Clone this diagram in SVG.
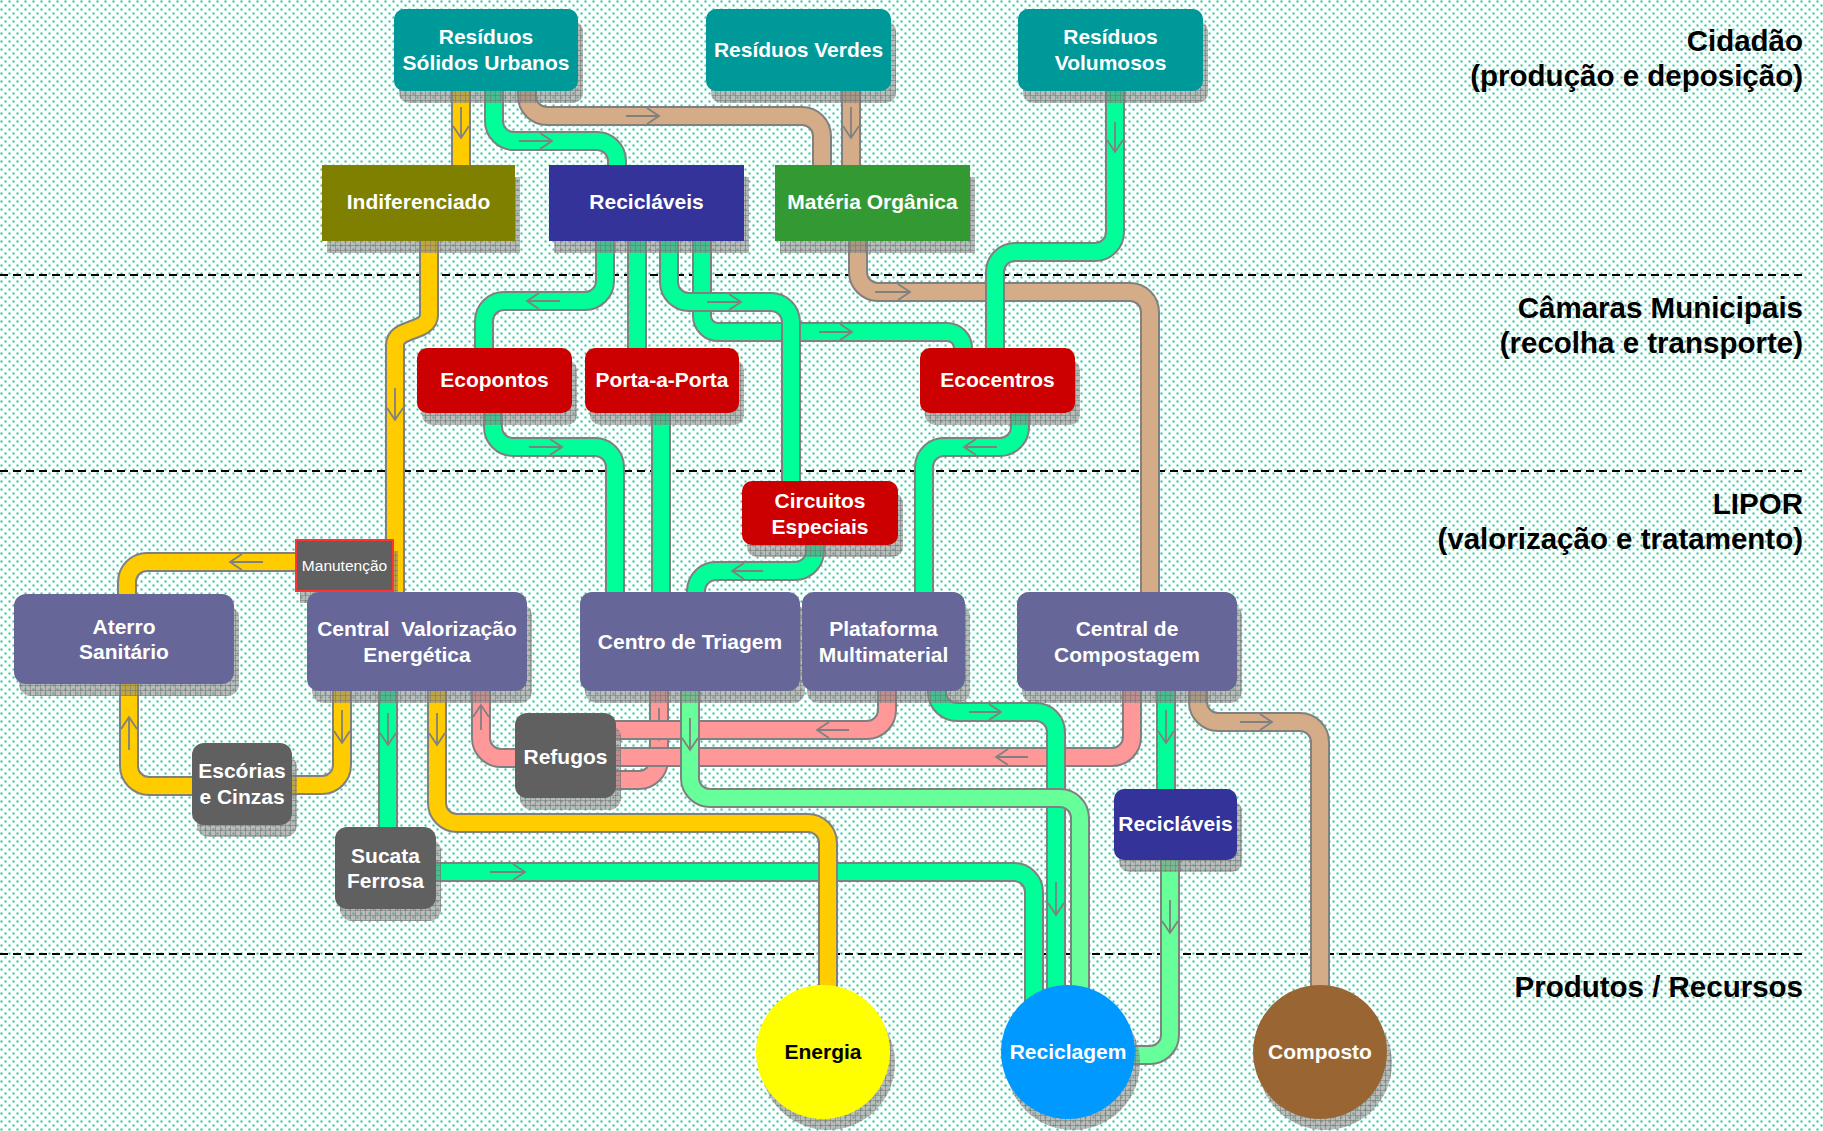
<svg xmlns="http://www.w3.org/2000/svg" width="1823" height="1131" viewBox="0 0 1823 1131">
<defs>
<pattern id="dots" width="8" height="8" patternUnits="userSpaceOnUse">
<rect x="0.5" y="0.5" width="2" height="2" fill="#1FC796"/>
<rect x="4.5" y="4.5" width="2" height="2" fill="#1FC796"/>
</pattern>
<pattern id="sh" width="5" height="5" patternUnits="userSpaceOnUse">
<rect width="5" height="5" fill="#858585" fill-opacity="0.55"/>
<path d="M0 0.5H5M0.5 0V5" stroke="#707070" stroke-width="0.8" stroke-opacity="0.6"/>
</pattern>
<style>
.o{fill:none;stroke:#808080;stroke-width:20}
.f{fill:none;stroke-width:16}
.y{stroke:#FFCC00}.g{stroke:#00FF99}.lg{stroke:#66FF99}.p{stroke:#FF9999}.tn{stroke:#D4AC88}
.a{fill:none;stroke:#808080;stroke-width:1.8}
.s{fill:url(#sh)}
.t{font-family:"Liberation Sans",Arial,sans-serif;font-weight:bold;font-size:21px;fill:#fff;text-anchor:middle}
.lab{font-family:"Liberation Sans",Arial,sans-serif;font-weight:bold;font-size:29.5px;fill:#000;text-anchor:end}
.teal{fill:#009999}.red{fill:#CC0000}.pur{fill:#666699}.dk{fill:#606060}.blue{fill:#333399}
</style>
</defs>
<rect width="1823" height="1131" fill="#fff"/>
<rect width="1823" height="1131" fill="url(#dots)"/>
<g id="layers" stroke="#000" stroke-width="2" stroke-dasharray="8 5">
<line x1="0" y1="275" x2="1805" y2="275"/>
<line x1="0" y1="471" x2="1805" y2="471"/>
<line x1="0" y1="954" x2="1805" y2="954"/>
</g>
<g id="layer-labels">
<text class="lab" x="1803" y="51">Cidadão</text>
<text class="lab" x="1803" y="86">(produção e deposição)</text>
<text class="lab" x="1803" y="318">Câmaras Municipais</text>
<text class="lab" x="1803" y="353">(recolha e transporte)</text>
<text class="lab" x="1803" y="514">LIPOR</text>
<text class="lab" x="1803" y="549">(valorização e tratamento)</text>
<text class="lab" x="1803" y="997">Produtos / Recursos</text>
</g>
<g id="connectors">
<path class="o" d="M527 80V96A20 20 0 0 0 547 116H802A20 20 0 0 1 822 136V180"/>
<path class="f tn" d="M527 80V96A20 20 0 0 0 547 116H802A20 20 0 0 1 822 136V180"/>
<path class="a" d="M626 116H659M647 108L659 116L647 124"/>
<path class="o" d="M494 80V121A20 20 0 0 0 514 141H597A20 20 0 0 1 617 161V180"/>
<path class="f g" d="M494 80V121A20 20 0 0 0 514 141H597A20 20 0 0 1 617 161V180"/>
<path class="a" d="M519 141H552M540 133L552 141L540 149"/>
<path class="o" d="M461 80V180"/>
<path class="f y" d="M461 80V180"/>
<path class="a" d="M461 107V138M453 126L461 138L469 126"/>
<path class="o" d="M851 80V180"/>
<path class="f tn" d="M851 80V180"/>
<path class="a" d="M851 107V138M843 126L851 138L859 126"/>
<path class="o" d="M858 230V272A20 20 0 0 0 878 292H1130A20 20 0 0 1 1150 312V600"/>
<path class="f tn" d="M858 230V272A20 20 0 0 0 878 292H1130A20 20 0 0 1 1150 312V600"/>
<path class="a" d="M875 292H910M898 284L910 292L898 300"/>
<path class="o" d="M1115 80V232A20 20 0 0 1 1095 252H1015A20 20 0 0 0 995 272V360"/>
<path class="f g" d="M1115 80V232A20 20 0 0 1 1095 252H1015A20 20 0 0 0 995 272V360"/>
<path class="a" d="M1115 122V152M1107 140L1115 152L1123 140"/>
<path class="o" d="M605 230V281A20 20 0 0 1 585 301H504A20 20 0 0 0 484 321V360"/>
<path class="f g" d="M605 230V281A20 20 0 0 1 585 301H504A20 20 0 0 0 484 321V360"/>
<path class="a" d="M560 301H527M539 293L527 301L539 309"/>
<path class="o" d="M637 230V360"/>
<path class="f g" d="M637 230V360"/>
<path class="o" d="M702 230V316A16 16 0 0 0 718 332H947A16 16 0 0 1 963 348V360"/>
<path class="f g" d="M702 230V316A16 16 0 0 0 718 332H947A16 16 0 0 1 963 348V360"/>
<path class="a" d="M819 332H852M840 324L852 332L840 340"/>
<path class="o" d="M669 230V282A20 20 0 0 0 689 302H771A20 20 0 0 1 791 322V490"/>
<path class="f g" d="M669 230V282A20 20 0 0 0 689 302H771A20 20 0 0 1 791 322V490"/>
<path class="a" d="M707 302H741M729 294L741 302L729 310"/>
<path class="o" d="M429 230V315C429 333 395 327 395 345V600"/>
<path class="f y" d="M429 230V315C429 333 395 327 395 345V600"/>
<path class="a" d="M395 388V420M387 408L395 420L403 408"/>
<path class="o" d="M493 400V427A20 20 0 0 0 513 447H595A20 20 0 0 1 615 467V600"/>
<path class="f g" d="M493 400V427A20 20 0 0 0 513 447H595A20 20 0 0 1 615 467V600"/>
<path class="a" d="M529 447H562M550 439L562 447L550 455"/>
<path class="o" d="M661 400V600"/>
<path class="f g" d="M661 400V600"/>
<path class="o" d="M1020 400V427A20 20 0 0 1 1000 447H944A20 20 0 0 0 924 467V600"/>
<path class="f g" d="M1020 400V427A20 20 0 0 1 1000 447H944A20 20 0 0 0 924 467V600"/>
<path class="a" d="M997 447H964M976 439L964 447L976 455"/>
<path class="o" d="M815 535V551A20 20 0 0 1 795 571H716A20 20 0 0 0 696 591V600"/>
<path class="f g" d="M815 535V551A20 20 0 0 1 795 571H716A20 20 0 0 0 696 591V600"/>
<path class="a" d="M763 571H732M744 563L732 571L744 579"/>
<path class="o" d="M300 562H147A20 20 0 0 0 127 582V600"/>
<path class="f y" d="M300 562H147A20 20 0 0 0 127 582V600"/>
<path class="a" d="M263 562H230M242 554L230 562L242 570"/>
<path class="o" d="M200 786H149A20 20 0 0 1 129 766V675"/>
<path class="f y" d="M200 786H149A20 20 0 0 1 129 766V675"/>
<path class="a" d="M129 750V717M121 729L129 717L137 729"/>
<path class="o" d="M342 680V765A20 20 0 0 1 322 785H280"/>
<path class="f y" d="M342 680V765A20 20 0 0 1 322 785H280"/>
<path class="a" d="M342 710V743M334 731L342 743L350 731"/>
<path class="o" d="M388 680V840"/>
<path class="f g" d="M388 680V840"/>
<path class="a" d="M388 713V745M380 733L388 745L396 733"/>
<path class="o" d="M659 680V760A20 20 0 0 1 639 780H605"/>
<path class="f p" d="M659 680V760A20 20 0 0 1 639 780H605"/>
<path class="a" d="M659 708V740M651 728L659 740L667 728"/>
<path class="o" d="M887 680V710A20 20 0 0 1 867 730H605"/>
<path class="f p" d="M887 680V710A20 20 0 0 1 867 730H605"/>
<path class="a" d="M849 730H817M829 722L817 730L829 738"/>
<path class="o" d="M1132 680V737A20 20 0 0 1 1112 757H605"/>
<path class="f p" d="M1132 680V737A20 20 0 0 1 1112 757H605"/>
<path class="a" d="M1028 757H996M1008 749L996 757L1008 765"/>
<path class="o" d="M525 758H501A20 20 0 0 1 481 738V680"/>
<path class="f p" d="M525 758H501A20 20 0 0 1 481 738V680"/>
<path class="a" d="M481 730V705M473 717L481 705L489 717"/>
<path class="o" d="M937 680V692A20 20 0 0 0 957 712H1036A20 20 0 0 1 1056 732V1010"/>
<path class="f g" d="M937 680V692A20 20 0 0 0 957 712H1036A20 20 0 0 1 1056 732V1010"/>
<path class="a" d="M969 712H1001M989 704L1001 712L989 720"/>
<path class="a" d="M1056 882V915M1048 903L1056 915L1064 903"/>
<path class="o" d="M690 680V778A20 20 0 0 0 710 798H1060A20 20 0 0 1 1080 818V1010"/>
<path class="f lg" d="M690 680V778A20 20 0 0 0 710 798H1060A20 20 0 0 1 1080 818V1010"/>
<path class="a" d="M690 718V750M682 738L690 750L698 738"/>
<path class="o" d="M430 872H1014A20 20 0 0 1 1034 892V1010"/>
<path class="f g" d="M430 872H1014A20 20 0 0 1 1034 892V1010"/>
<path class="a" d="M490 872H525M513 864L525 872L513 880"/>
<path class="o" d="M437 680V803A20 20 0 0 0 457 823H808A20 20 0 0 1 828 843V1000"/>
<path class="f y" d="M437 680V803A20 20 0 0 0 457 823H808A20 20 0 0 1 828 843V1000"/>
<path class="a" d="M437 713V745M429 733L437 745L445 733"/>
<path class="o" d="M1166 680V800"/>
<path class="f g" d="M1166 680V800"/>
<path class="a" d="M1166 710V743M1158 731L1166 743L1174 731"/>
<path class="o" d="M1170 850V1035A20 20 0 0 1 1150 1055H1110"/>
<path class="f lg" d="M1170 850V1035A20 20 0 0 1 1150 1055H1110"/>
<path class="a" d="M1170 900V933M1162 921L1170 933L1178 921"/>
<path class="o" d="M1198 680V702A20 20 0 0 0 1218 722H1300A20 20 0 0 1 1320 742V1000"/>
<path class="f tn" d="M1198 680V702A20 20 0 0 0 1218 722H1300A20 20 0 0 1 1320 742V1000"/>
<path class="a" d="M1240 722H1272M1260 714L1272 722L1260 730"/>
</g>
<g id="rsu"><rect class="s" x="399" y="21" width="184" height="82" rx="10"/><rect class="teal" x="394" y="9" width="184" height="82" rx="10"/><text class="t" x="486" y="44">Resíduos</text><text class="t" x="486" y="70">Sólidos Urbanos</text></g>
<g id="residuos-verdes"><rect class="s" x="711" y="21" width="185" height="82" rx="10"/><rect class="teal" x="706" y="9" width="185" height="82" rx="10"/><text class="t" x="798.5" y="57">Resíduos Verdes</text></g>
<g id="residuos-volumosos"><rect class="s" x="1023" y="21" width="185" height="82" rx="10"/><rect class="teal" x="1018" y="9" width="185" height="82" rx="10"/><text class="t" x="1110.5" y="44">Resíduos</text><text class="t" x="1110.5" y="70">Volumosos</text></g>
<g id="indiferenciado"><rect class="s" x="327" y="177" width="193" height="76"/><rect fill="#808000" x="322" y="165" width="193" height="76"/><text class="t" x="418.5" y="209">Indiferenciado</text></g>
<g id="reciclaveis"><rect class="s" x="554" y="177" width="195" height="76"/><rect class="blue" x="549" y="165" width="195" height="76"/><text class="t" x="646.5" y="209">Recicláveis</text></g>
<g id="materia-organica"><rect class="s" x="780" y="177" width="195" height="76"/><rect fill="#339933" x="775" y="165" width="195" height="76"/><text class="t" x="872.5" y="209">Matéria Orgânica</text></g>
<g id="ecopontos"><rect class="s" x="422" y="360" width="155" height="65" rx="10"/><rect class="red" x="417" y="348" width="155" height="65" rx="10"/><text class="t" x="494.5" y="387">Ecopontos</text></g>
<g id="porta-a-porta"><rect class="s" x="590" y="360" width="154" height="65" rx="10"/><rect class="red" x="585" y="348" width="154" height="65" rx="10"/><text class="t" x="662" y="387">Porta-a-Porta</text></g>
<g id="ecocentros"><rect class="s" x="925" y="360" width="155" height="65" rx="10"/><rect class="red" x="920" y="348" width="155" height="65" rx="10"/><text class="t" x="997.5" y="387">Ecocentros</text></g>
<g id="circuitos-especiais"><rect class="s" x="747" y="493" width="156" height="64" rx="10"/><rect class="red" x="742" y="481" width="156" height="64" rx="10"/><text class="t" x="820" y="508">Circuitos</text><text class="t" x="820" y="534">Especiais</text></g>
<g id="manutencao"><rect class="s" x="300" y="551" width="98" height="52"/><rect class="dk" x="296" y="540" width="97" height="51" stroke="#FF3333" stroke-width="2"/><text x="344.5" y="571" text-anchor="middle" font-family="Liberation Sans, Arial, sans-serif" font-size="15.5" fill="#fff">Manutenção</text></g>
<g id="aterro-sanitario"><rect class="s" x="19" y="606" width="220" height="90" rx="12"/><rect class="pur" x="14" y="594" width="220" height="90" rx="12"/><text class="t" x="124" y="634">Aterro</text><text class="t" x="124" y="659">Sanitário</text></g>
<g id="central-valorizacao-energetica"><rect class="s" x="312" y="604" width="220" height="99" rx="12"/><rect class="pur" x="307" y="592" width="220" height="99" rx="12"/><text class="t" x="417" y="636" xml:space="preserve">Central  Valorização</text><text class="t" x="417" y="662">Energética</text></g>
<g id="centro-de-triagem"><rect class="s" x="585" y="604" width="220" height="99" rx="12"/><rect class="pur" x="580" y="592" width="220" height="99" rx="12"/><text class="t" x="690" y="649">Centro de Triagem</text></g>
<g id="plataforma-multimaterial"><rect class="s" x="807" y="604" width="163" height="99" rx="12"/><rect class="pur" x="802" y="592" width="163" height="99" rx="12"/><text class="t" x="883.5" y="636">Plataforma</text><text class="t" x="883.5" y="662">Multimaterial</text></g>
<g id="central-de-compostagem"><rect class="s" x="1022" y="604" width="220" height="99" rx="12"/><rect class="pur" x="1017" y="592" width="220" height="99" rx="12"/><text class="t" x="1127" y="636">Central de</text><text class="t" x="1127" y="662">Compostagem</text></g>
<g id="escorias-cinzas"><rect class="s" x="197" y="755" width="100" height="82" rx="12"/><rect class="dk" x="192" y="743" width="100" height="82" rx="12"/><text class="t" x="242" y="778">Escórias</text><text class="t" x="242" y="804">e Cinzas</text></g>
<g id="refugos"><rect class="s" x="520" y="725" width="101" height="85" rx="12"/><rect class="dk" x="515" y="713" width="101" height="85" rx="12"/><text class="t" x="565.5" y="764">Refugos</text></g>
<g id="sucata-ferrosa"><rect class="s" x="340" y="839" width="101" height="82" rx="12"/><rect class="dk" x="335" y="827" width="101" height="82" rx="12"/><text class="t" x="385.5" y="863">Sucata</text><text class="t" x="385.5" y="888">Ferrosa</text></g>
<g id="reciclaveis-2"><rect class="s" x="1119" y="801" width="123" height="71" rx="10"/><rect class="blue" x="1114" y="789" width="123" height="71" rx="10"/><text class="t" x="1175.5" y="831">Recicláveis</text></g>
<g id="energia"><ellipse class="s" cx="828" cy="1063" rx="67" ry="67"/><ellipse fill="#FFFF00" cx="823" cy="1052" rx="67" ry="67"/><text class="t" x="823" y="1059" style="fill:#000">Energia</text></g>
<g id="reciclagem"><ellipse class="s" cx="1073" cy="1063" rx="67" ry="67"/><ellipse fill="#0099FF" cx="1068" cy="1052" rx="67" ry="67"/><text class="t" x="1068" y="1059">Reciclagem</text></g>
<g id="composto"><ellipse class="s" cx="1325" cy="1063" rx="67" ry="67"/><ellipse fill="#996633" cx="1320" cy="1052" rx="67" ry="67"/><text class="t" x="1320" y="1059">Composto</text></g>
</svg>
